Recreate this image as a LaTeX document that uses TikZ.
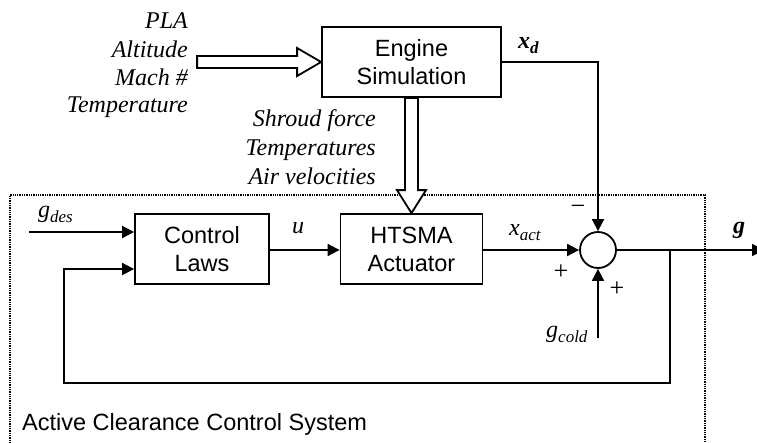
\documentclass[tikz,border=0pt]{standalone}
\usepackage{fontspec}
\setmainfont{Liberation Serif}
\newfontfamily\arial{Liberation Sans}
\usetikzlibrary{arrows.meta,calc}
\newcommand{\sublbl}[2]{#1\raisebox{-5pt}{\fontsize{17}{17}\selectfont #2}}
\tikzset{
  blk/.style={draw,line width=1.8pt,rectangle,inner sep=0pt,font=\arial\fontsize{23.5}{28}\selectfont,align=center},
  arr/.style={line width=1.8pt,-{Triangle[length=12pt,width=12pt]}},
  hollow/.style={draw,line width=1.8pt,fill=white,line join=miter},
  itl/.style={font=\itshape\fontsize{24}{28}\selectfont,inner sep=0pt},
  sgn/.style={font=\fontsize{26}{26}\selectfont,inner sep=0pt},
  frame/.style={line width=1.3pt,dash pattern=on 1.3pt off 1pt}
}
\begin{document}
\begin{tikzpicture}[x=1pt,y=-1pt]
\useasboundingbox (0,0) rectangle (757,442);
\clip (0,0) rectangle (757,442);
% dotted system frame (bottom outside the picture)
\draw[frame] (10,450) -- (10,195) -- (705,195) -- (705,450);
% blocks
\node[blk,minimum width=179pt,minimum height=70pt] (eng) at (411.5,62) {Engine\\Simulation};
\node[blk,minimum width=134pt,minimum height=70pt] (cl) at (202,249) {Control\\Laws};
\node[blk,minimum width=142pt,minimum height=70pt] (hts) at (411.5,249) {HTSMA\\Actuator};
\node[draw,circle,line width=1.8pt,minimum size=36pt,inner sep=0pt] (sum) at (598,250) {};
% coordinates
\coordinate (gin) at (29,232);
\coordinate (br) at (670,250);
\coordinate (fb) at (64,383);
\coordinate (gc) at (598,338);
\coordinate (out) at (764,250);
% hollow arrows
\draw[hollow] ($(eng.west)+(-124,-6)$) -- ++(100,0) -- ++(0,-8) -- (eng.west) -- ++(-24,14) -- ++(0,-8) -- ++(-100,0) -- cycle;
\draw[hollow] ($(eng.south)+(-6.5,0)$) -- ($(hts.north)+(-6.5,-23)$) -- ++(-8,0) -- (hts.north) -- ++(14.5,-23) -- ++(-8,0) -- ($(eng.south)+(6.5,0)$) -- cycle;
% connectors
\draw[arr] (gin) -- (gin -| cl.west);
\draw[arr] (cl.east |- sum) -- (hts.west |- sum);
\draw[arr] (hts.east |- sum) -- (sum.west);
\draw[arr] (eng.east) -| (sum.north);
\draw[arr] (gc) -- (sum.south);
\draw[arr] (sum.east) -- (out);
\draw[arr] (br) |- (fb) |- ($(cl.west)+(0,20)$);
% input labels
\node[itl,anchor=base east] at (188,28.5) {PLA};
\node[itl,anchor=base east] at (188,57) {Altitude};
\node[itl,anchor=base east] at (188,85) {Mach \#};
\node[itl,anchor=base east] at (188,112.5) {Temperature};
\node[itl,anchor=base east] at (376,126) {Shroud force};
\node[itl,anchor=base east] at (376,155) {Temperatures};
\node[itl,anchor=base east] at (376,184) {Air velocities};
% signal labels
\node[itl,anchor=base west] at (38,217) {\sublbl{g}{des}};
\node[itl,anchor=base west] at (292,233) {u};
\node[itl,anchor=base west] at (509,235) {\sublbl{x}{act}};
\node[itl,anchor=base west,font=\bfseries\itshape\fontsize{24}{28}\selectfont] at (518,48) {\sublbl{x}{d}};
\node[itl,anchor=base west] at (546,337) {\sublbl{g}{cold}};
\node[itl,anchor=base west,font=\bfseries\itshape\fontsize{24}{28}\selectfont] at (733,233) {g};
% signs
\node[sgn] at (578,210) {−};
\node[sgn] at (561,272) {+};
\node[sgn] at (617,289) {+};
% system label
\node[anchor=base west,inner sep=0pt,font=\arial\fontsize{23.5}{28}\selectfont] at (22,430) {Active Clearance Control System};
\end{tikzpicture}
\end{document}
